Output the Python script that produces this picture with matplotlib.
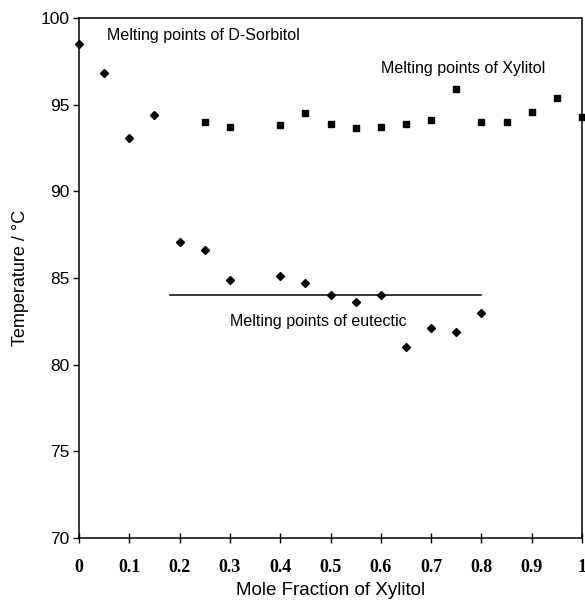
import numpy as np
import matplotlib; matplotlib.use("Agg")
import matplotlib.pyplot as plt

# --- data ---
x_sorb = [0.0, 0.05, 0.1, 0.15, 0.2, 0.25, 0.3, 0.4, 0.45]
t_sorb = [98.5, 96.8, 93.1, 94.4, 87.1, 86.6, 84.9, 85.1, 84.7]

x_eut = [0.5, 0.55, 0.6, 0.65, 0.7, 0.75, 0.8]
t_eut = [84.0, 83.6, 84.0, 81.0, 82.1, 81.9, 83.0]

x_xyl = [0.25, 0.3, 0.4, 0.45, 0.5, 0.55, 0.6, 0.65, 0.7, 0.75, 0.8, 0.85, 0.9, 0.95, 1.0]
t_xyl = [94.0, 93.7, 93.8, 94.5, 93.9, 93.65, 93.7, 93.9, 94.1, 95.9, 94.0, 94.0, 94.6, 95.4, 94.3]

eut_line_x = [0.18, 0.8]
eut_line_t = [84.0, 84.0]

xticks = [0, 0.1, 0.2, 0.3, 0.4, 0.5, 0.6, 0.7, 0.8, 0.9, 1]
xticklabels = ['0', '0.1', '0.2', '0.3', '0.4', '0.5', '0.6', '0.7', '0.8', '0.9', '1']
yticks = [70, 75, 80, 85, 90, 95, 100]

sans = ['Liberation Sans', 'DejaVu Sans']
serif = ['Liberation Serif', 'DejaVu Serif']

fig = plt.figure(figsize=(5.85, 6.01), dpi=100)
ax = fig.add_axes([0.135, 0.105, 0.860, 0.865])

ax.plot(eut_line_x, eut_line_t, color='k', lw=1.1, zorder=2)
ax.plot(x_sorb, t_sorb, 'D', color='k', ms=4.3, ls='none', zorder=3, clip_on=False)
ax.plot(x_eut, t_eut, 'D', color='k', ms=4.3, ls='none', zorder=3, clip_on=False)
ax.plot(x_xyl, t_xyl, 's', color='k', ms=5.0, ls='none', zorder=3, clip_on=False)

ax.set_xlim(0, 1)
ax.set_ylim(70, 100)
ax.set_xticks(xticks)
ax.set_xticklabels(xticklabels, family=serif, fontsize=13, fontweight='bold')
ax.set_yticks(yticks)
ax.set_yticklabels([str(v) for v in yticks], family=sans, fontsize=12.5)
ax.tick_params(axis='x', direction='inout', length=7, width=1, pad=12)
ax.tick_params(axis='y', direction='out', length=4, width=1, pad=3)

for s in ax.spines.values():
    s.set_linewidth(1.1)
    s.set_color('k')

ax.set_xlabel('Mole Fraction of Xylitol', family=sans, fontsize=13.5, labelpad=4)
ax.set_ylabel('Temperature / \u00b0C', family=sans, fontsize=13, labelpad=8)

ax.text(0.056, 99.0, 'Melting points of D-Sorbitol', family=sans, fontsize=11.5, va='center', ha='left')
ax.text(0.60, 97.1, 'Melting points of Xylitol', family=sans, fontsize=11.5, va='center', ha='left')
ax.text(0.30, 82.5, 'Melting points of eutectic', family=sans, fontsize=11.5, va='center', ha='left')

fig.savefig('out.png', dpi=100)
